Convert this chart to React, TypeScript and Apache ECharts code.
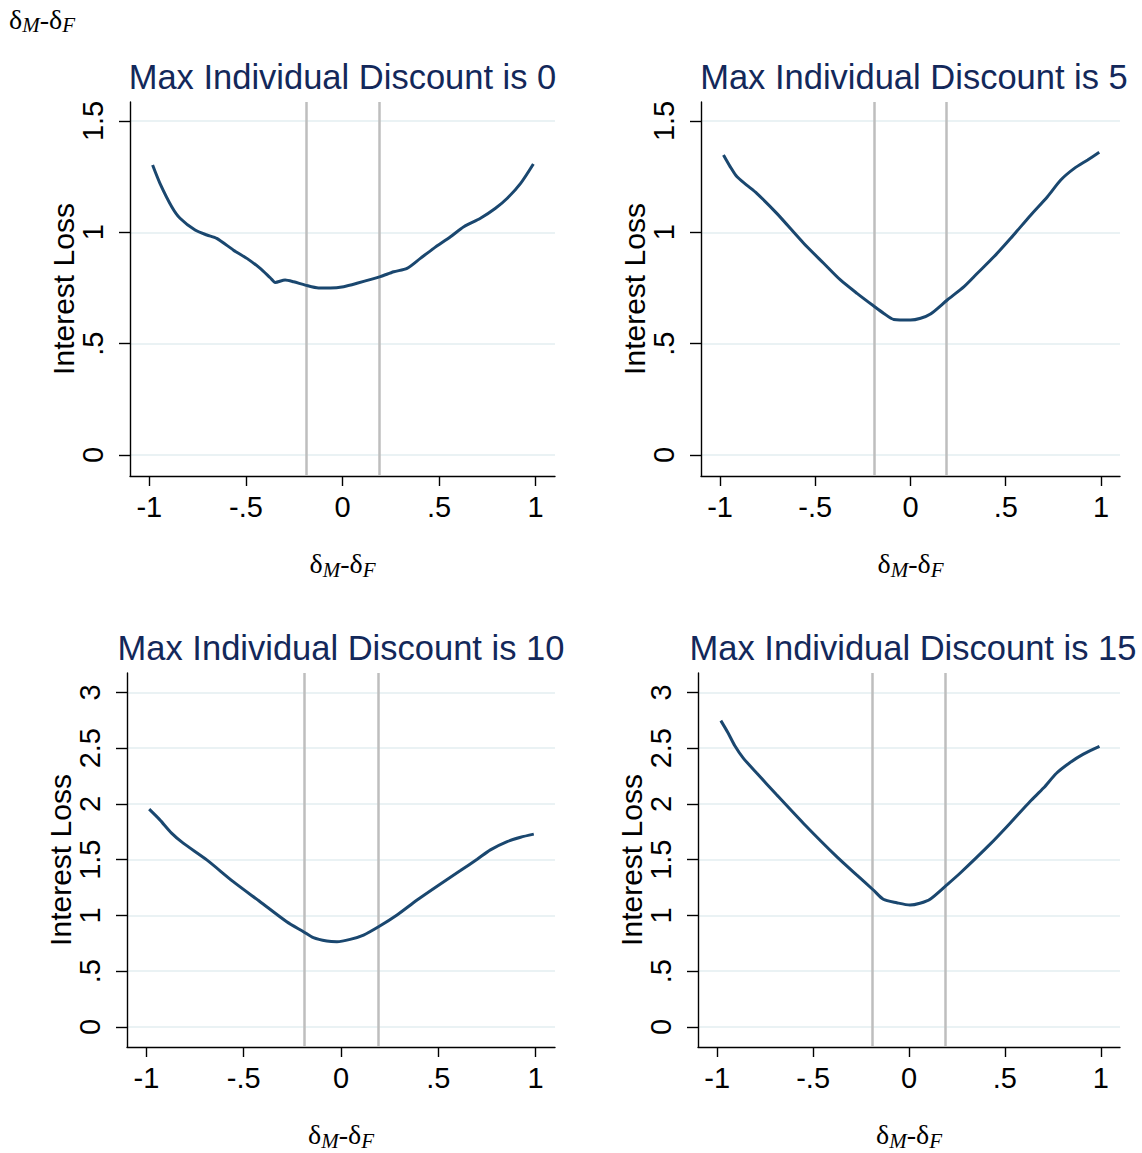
import React, { useEffect, useRef } from "react";
import * as echarts from "echarts";

// ---------- data ----------
const xTicks = [-1, -0.5, 0, 0.5, 1];
const yTicksTop = [0, 0.5, 1, 1.5];
const yTicksBottom = [0, 0.5, 1, 1.5, 2, 2.5, 3];
const refLines = [-0.193, 0.193];
const panelTitles = [
  "Max Individual Discount is 0",
  "Max Individual Discount is 5",
  "Max Individual Discount is 10",
  "Max Individual Discount is 15",
];

const x0 = [-0.983, -0.945, -0.884, -0.841, -0.763, -0.702, -0.651, -0.564, -0.495, -0.426, -0.374, -0.348, -0.297, -0.253, -0.193, -0.124, -0.063, 0.006, 0.075, 0.196, 0.265, 0.334, 0.403, 0.472, 0.559, 0.628, 0.714, 0.792, 0.853, 0.922, 0.988];
const y0 = [1.302, 1.22, 1.115, 1.063, 1.01, 0.988, 0.973, 0.92, 0.883, 0.838, 0.796, 0.775, 0.786, 0.778, 0.763, 0.75, 0.75, 0.756, 0.771, 0.801, 0.823, 0.838, 0.883, 0.928, 0.98, 1.025, 1.063, 1.108, 1.153, 1.22, 1.307];

const x5 = [-0.982, -0.947, -0.912, -0.86, -0.807, -0.702, -0.561, -0.456, -0.368, -0.281, -0.193, -0.14, -0.088, 0, 0.053, 0.105, 0.193, 0.281, 0.351, 0.439, 0.526, 0.632, 0.719, 0.789, 0.86, 0.93, 0.991];
const y5 = [1.347, 1.295, 1.25, 1.212, 1.175, 1.085, 0.951, 0.861, 0.786, 0.726, 0.669, 0.636, 0.609, 0.606, 0.614, 0.633, 0.696, 0.756, 0.816, 0.891, 0.973, 1.078, 1.16, 1.235, 1.287, 1.325, 1.359];

const x10 = [-0.986, -0.931, -0.871, -0.811, -0.69, -0.554, -0.416, -0.279, -0.193, -0.142, -0.073, -0.021, 0.047, 0.116, 0.193, 0.288, 0.391, 0.511, 0.614, 0.7, 0.768, 0.854, 0.923, 0.991];
const y10 = [1.953, 1.857, 1.738, 1.648, 1.498, 1.303, 1.123, 0.943, 0.854, 0.8, 0.77, 0.764, 0.785, 0.824, 0.898, 1.004, 1.138, 1.282, 1.402, 1.504, 1.588, 1.662, 1.701, 1.729];

const x15 = [-0.981, -0.943, -0.908, -0.864, -0.794, -0.69, -0.551, -0.377, -0.273, -0.186, -0.134, -0.064, 0.005, 0.057, 0.11, 0.197, 0.266, 0.423, 0.527, 0.631, 0.701, 0.77, 0.84, 0.909, 0.993];
const y15 = [2.747, 2.636, 2.522, 2.411, 2.277, 2.082, 1.827, 1.527, 1.363, 1.228, 1.145, 1.114, 1.093, 1.109, 1.145, 1.273, 1.378, 1.639, 1.827, 2.022, 2.142, 2.277, 2.372, 2.447, 2.516];

const seriesX = [x0, x5, x10, x15];
const seriesY = [y0, y5, y10, y15];

// ---------- layout / style ----------
const grids = [
  { left: 130, top: 102, width: 425, height: 374 },
  { left: 701, top: 102, width: 419, height: 374 },
  { left: 127, top: 673, width: 428, height: 374 },
  { left: 698, top: 673, width: 422, height: 374 },
];
const titlePos = [
  { x: 342.5, y: 77 },
  { x: 914, y: 77 },
  { x: 341, y: 648 },
  { x: 913, y: 648 },
];
const yRanges = [
  [-0.094, 1.585],
  [-0.094, 1.585],
  [-0.18, 3.174],
  [-0.18, 3.174],
];

const SANS = "'Liberation Sans', Arial, Helvetica, sans-serif";
const SERIF = "'Liberation Serif', 'Times New Roman', serif";
const LINE_COLOR = "#1a476f";
const TITLE_COLOR = "#13285a";

const fmt = (v: number) => {
  if (v === 0) return "0";
  const s = String(Math.abs(v)).replace(/^0\./, ".");
  return (v < 0 ? "-" : "") + s;
};

const deltaRich = (big: number, small: number, subPad: number) => ({
  d: { fontFamily: SERIF, fontSize: big, color: "#000" },
  h: { fontFamily: SERIF, fontSize: big, color: "#000" },
  s: {
    fontFamily: SERIF,
    fontStyle: "italic",
    fontSize: small,
    color: "#000",
    padding: [subPad, 0, 0, 0],
  },
});
const deltaText = "{d|δ}{s|M}{h|-}{d|δ}{s|F}";

export default function App() {
  const ref = useRef<HTMLDivElement>(null);

  useEffect(() => {
    document.body.style.margin = "0";
    if (!ref.current) return;
    const chart = echarts.init(ref.current, undefined, { renderer: "svg" });

    const xAxis = grids.map((_, i) => ({
      type: "value",
      gridIndex: i,
      min: -1.1,
      max: 1.1,
      name: deltaText,
      nameLocation: "middle",
      nameGap: 71,
      nameMoveOverlap: false,
      nameTextStyle: { rich: deltaRich(28, 21, 12) },
      axisLine: { show: true, onZero: false, lineStyle: { color: "#000", width: 1.4 } },
      axisTick: {
        show: true,
        length: 10,
        customValues: xTicks,
        lineStyle: { color: "#000", width: 1.4 },
      },
      axisLabel: {
        customValues: xTicks,
        formatter: fmt,
        fontSize: 29,
        fontFamily: SANS,
        color: "#000",
        margin: 16,
      },
      splitLine: { show: false },
    }));

    const yAxis = grids.map((_, i) => {
      const ticks = i < 2 ? yTicksTop : yTicksBottom;
      return {
        type: "value",
        gridIndex: i,
        min: yRanges[i][0],
        max: yRanges[i][1],
        name: "Interest Loss",
        nameLocation: "middle",
        nameGap: 52,
        nameRotate: 90,
        nameMoveOverlap: false,
        nameTextStyle: { fontSize: 30, fontFamily: SANS, color: "#000" },
        axisLine: { show: true, onZero: false, lineStyle: { color: "#000", width: 1.4 } },
        axisTick: {
          show: true,
          length: 11,
          customValues: ticks,
          lineStyle: { color: "#000", width: 1.4 },
        },
        axisLabel: {
          customValues: ticks,
          formatter: fmt,
          rotate: 90,
          fontSize: 29,
          fontFamily: SANS,
          color: "#000",
          margin: 23,
        },
        splitLine: { show: true, lineStyle: { color: "#e3eef1", width: 1.6 } },
      };
    });

    const series = grids.map((_, i) => ({
      type: "line",
      xAxisIndex: i,
      yAxisIndex: i,
      data: seriesX[i].map((x, k) => [x, seriesY[i][k]]),
      showSymbol: false,
      smooth: 0.25,
      z: 3,
      lineStyle: { color: LINE_COLOR, width: 3 },
      markLine: {
        silent: true,
        symbol: "none",
        z: 2,
        label: { show: false },
        lineStyle: { color: "#bebebe", width: 2.5, type: "solid" },
        data: refLines.map((v) => ({ xAxis: v })),
      },
    }));

    const graphic: any[] = titlePos.map((p, i) => ({
      type: "text",
      x: p.x,
      y: p.y,
      style: {
        text: panelTitles[i],
        fontSize: 34.5,
        fontFamily: SANS,
        fill: TITLE_COLOR,
        align: "center",
        verticalAlign: "middle",
      },
    }));
    graphic.push({
      type: "text",
      left: 9,
      top: 5,
      style: {
        text: deltaText,
        rich: deltaRich(28, 21, 12),
      },
    });

    chart.setOption({
      animation: false,
      backgroundColor: "#ffffff",
      grid: grids.map((g) => ({ ...g, containLabel: false, outerBoundsMode: "none" })),
      xAxis,
      yAxis,
      series,
      graphic,
    });

    return () => chart.dispose();
  }, []);

  return <div ref={ref} style={{ width: 1142, height: 1153 }} />;
}
